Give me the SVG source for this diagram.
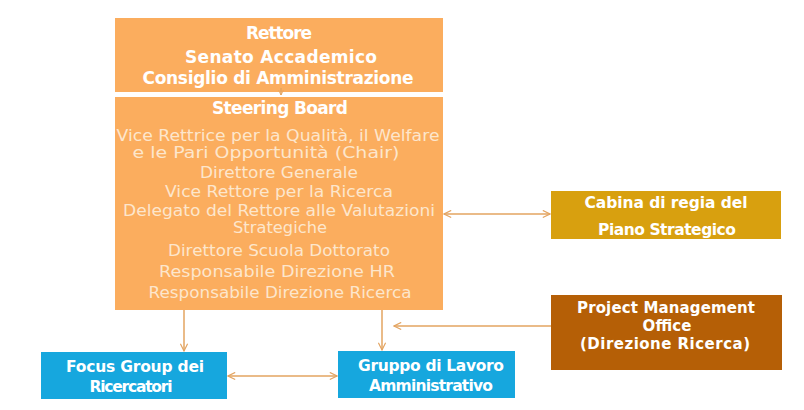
<svg xmlns="http://www.w3.org/2000/svg" width="804" height="410" viewBox="0 0 804 410">
<defs>
<marker id="arr" viewBox="0 0 10 10" refX="9" refY="5" markerWidth="9" markerHeight="9" orient="auto-start-reverse" markerUnits="userSpaceOnUse">
<path d="M1,1 L9,5 L1,9" fill="none" stroke="#E3A461" stroke-width="1.3"/>
</marker>
<marker id="sm" viewBox="0 0 10 10" refX="9" refY="5" markerWidth="6" markerHeight="6" orient="auto" markerUnits="userSpaceOnUse">
<path d="M1,1 L9,5 L1,9" fill="none" stroke="#E3A461" stroke-width="1.5"/>
</marker>
<style>
.con{stroke:#E3A461;stroke-width:1.5;fill:none}
.or{fill:#FBAD5E}
.t{font-family:"DejaVu Sans","Liberation Sans",sans-serif;text-anchor:middle}
.b{font-weight:bold;fill:#FFFFFF;font-size:17px}
.r{fill:#FDE6CC;font-size:15.5px}
.s{font-size:15.5px}
.p{font-size:15px}
</style>
</defs>
<rect width="804" height="410" fill="#FFFFFF"/>
<g id="vertici">
<rect class="or" x="115" y="18" width="328" height="74"/>
<text class="t b" x="279" y="39" textLength="66" lengthAdjust="spacing">Rettore</text>
<text class="t b" x="281" y="63" textLength="192" lengthAdjust="spacing">Senato Accademico</text>
<text class="t b" x="278" y="84" textLength="271" lengthAdjust="spacing">Consiglio di Amministrazione</text>
</g>
<g id="steering">
<rect class="or" x="115" y="97" width="328" height="213"/>
<text class="t b" x="280" y="114" textLength="136" lengthAdjust="spacing">Steering Board</text>
<text class="t r" x="278" y="141" textLength="323" lengthAdjust="spacingAndGlyphs">Vice Rettrice per la Qualità, il Welfare</text>
<text class="t r" x="266" y="158" textLength="267" lengthAdjust="spacingAndGlyphs">e le Pari Opportunità (Chair)</text>
<text class="t r" x="279" y="178" textLength="158" lengthAdjust="spacingAndGlyphs">Direttore Generale</text>
<text class="t r" x="279" y="197" textLength="228" lengthAdjust="spacingAndGlyphs">Vice Rettore per la Ricerca</text>
<text class="t r" x="279" y="216" textLength="312" lengthAdjust="spacingAndGlyphs">Delegato del Rettore alle Valutazioni</text>
<text class="t r" x="280" y="233" textLength="94" lengthAdjust="spacingAndGlyphs">Strategiche</text>
<text class="t r" x="279" y="256" textLength="222" lengthAdjust="spacingAndGlyphs">Direttore Scuola Dottorato</text>
<text class="t r" x="277" y="277" textLength="236" lengthAdjust="spacingAndGlyphs">Responsabile Direzione HR</text>
<text class="t r" x="280" y="298" textLength="263" lengthAdjust="spacingAndGlyphs">Responsabile Direzione Ricerca</text>
</g>
<g id="cabina">
<rect x="551" y="191" width="230" height="48" fill="#D8A00F"/>
<text class="t b s" x="666" y="208" textLength="163" lengthAdjust="spacing">Cabina di regia del</text>
<text class="t b s" x="667" y="235" textLength="138" lengthAdjust="spacing">Piano Strategico</text>
</g>
<g id="pmo">
<rect x="551" y="295" width="231" height="75" fill="#B55F06"/>
<text class="t b p" x="666" y="313" textLength="178" lengthAdjust="spacing">Project Management</text>
<text class="t b p" x="667" y="331" textLength="49" lengthAdjust="spacing">Office</text>
<text class="t b p" x="665" y="349" textLength="170" lengthAdjust="spacing">(Direzione Ricerca)</text>
</g>
<g id="focus">
<rect x="41" y="352" width="186" height="47" fill="#16A7DE"/>
<text class="t b s" x="135" y="372" textLength="138" lengthAdjust="spacing">Focus Group dei</text>
<text class="t b s" x="131" y="392" textLength="83" lengthAdjust="spacing">Ricercatori</text>
</g>
<g id="gruppo">
<rect x="338" y="351" width="177" height="47" fill="#16A7DE"/>
<text class="t b s" x="431" y="371" textLength="146" lengthAdjust="spacing">Gruppo di Lavoro</text>
<text class="t b s" x="431" y="391" textLength="124" lengthAdjust="spacing">Amministrativo</text>
</g>
<g id="connettori">
<line class="con" x1="281" y1="88" x2="281" y2="95" stroke-width="1" marker-end="url(#sm)"/>
<line class="con" x1="184" y1="310" x2="184" y2="351" marker-end="url(#arr)"/>
<line class="con" x1="382" y1="310" x2="382" y2="350" marker-end="url(#arr)"/>
<line class="con" x1="228" y1="376" x2="337" y2="376" marker-start="url(#arr)" marker-end="url(#arr)"/>
<line class="con" x1="444" y1="214" x2="550" y2="214" marker-start="url(#arr)" marker-end="url(#arr)"/>
<line class="con" x1="551" y1="326" x2="394" y2="326" marker-end="url(#arr)"/>
</g>
</svg>
